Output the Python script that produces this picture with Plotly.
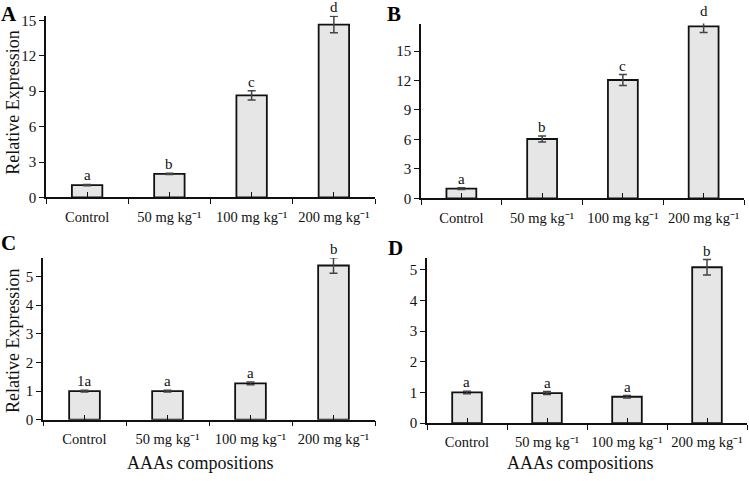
import plotly.graph_objects as go

categories = ["Control", "50 mg kg⁻¹", "100 mg kg⁻¹", "200 mg kg⁻¹"]

a_mean = [1.05, 2.0, 8.65, 14.65]
a_err = [0.05, 0.06, 0.4, 0.7]
a_letters = ["a", "b", "c", "d"]

b_mean = [1.0, 6.05, 12.05, 17.5]
b_err = [0.08, 0.3, 0.55, 0.62]
b_letters = ["a", "b", "c", "d"]

c_mean = [1.0, 1.0, 1.27, 5.38]
c_err = [0.03, 0.03, 0.05, 0.27]
c_letters = ["1a", "a", "a", "b"]

d_mean = [1.0, 0.98, 0.86, 5.08]
d_err = [0.04, 0.05, 0.04, 0.25]
d_letters = ["a", "a", "a", "b"]

panel_labels = ["A", "B", "C", "D"]
y_title = "Relative Expression"
x_title = "AAAs compositions"

FONT = "Liberation Serif, Times New Roman, serif"
W, H = 749, 481

def px_x(p):
    return p / W

def px_y(p):
    return 1 - p / H

# panel geometry (pixels): left, right, zero-line y, top y, y max, dtick
panels = [
    dict(mean=a_mean, err=a_err, letters=a_letters, l=46, r=375, y0=199, y1=13, ymax=15.4, dtick=3),
    dict(mean=b_mean, err=b_err, letters=b_letters, l=421, r=744, y0=200, y1=21, ymax=17.8, dtick=3),
    dict(mean=c_mean, err=c_err, letters=c_letters, l=43, r=375, y0=426.5, y1=261, ymax=5.64, dtick=1),
    dict(mean=d_mean, err=d_err, letters=d_letters, l=427, r=747, y0=430, y1=261, ymax=5.38, dtick=1),
]

fig = go.Figure()
annotations = []
layout = {}

for i, p in enumerate(panels):
    n = i + 1
    xa = "x" if n == 1 else f"x{n}"
    ya = "y" if n == 1 else f"y{n}"
    xo = f"x{n + 4}"
    # invisible helper trace on the base axis
    fig.add_trace(go.Scatter(
        x=categories, y=p["mean"], xaxis=xa, yaxis=ya, mode="markers",
        marker=dict(opacity=0), showlegend=False, hoverinfo="skip",
    ))
    # bars drawn on the overlay axis so its inner centre ticks sit on top
    fig.add_trace(go.Bar(
        x=categories, y=p["mean"], xaxis=xo, yaxis=ya, width=0.37,
        marker=dict(color="#e6e6e6", line=dict(color="#111111", width=1.8)),
        error_y=dict(type="data", array=p["err"], visible=True, color="#444444",
                     thickness=1.5, width=4),
        cliponaxis=False, showlegend=False, hoverinfo="skip",
    ))
    dom_x = [px_x(p["l"]), px_x(p["r"])]
    dom_y = [px_y(p["y0"]), px_y(p["y1"])]
    xkey = "xaxis" if n == 1 else f"xaxis{n}"
    ykey = "yaxis" if n == 1 else f"yaxis{n}"
    layout[xkey] = dict(
        domain=dom_x, anchor=ya, type="category", categoryorder="array",
        categoryarray=categories, range=[-0.5, 3.5], tickangle=0,
        showline=True, linecolor="#111111", linewidth=1.5,
        ticks="outside", tickson="boundaries", ticklen=5, tickwidth=1.3,
        tickcolor="#111111", showgrid=False, zeroline=False,
        ticklabelstandoff=5,
        tickfont=dict(family=FONT, size=14.5, color="#111111"),
    )
    layout[f"xaxis{n + 4}"] = dict(
        domain=dom_x, anchor=ya, overlaying=xa, type="category",
        categoryorder="array", categoryarray=categories, range=[-0.5, 3.5],
        showline=False, ticks="inside", ticklen=5, tickwidth=1.3,
        tickcolor="#111111", showticklabels=False, showgrid=False, zeroline=False,
        layer="above traces",
    )
    layout[ykey] = dict(
        domain=dom_y, anchor=xa, range=[0, p["ymax"]], dtick=p["dtick"], tick0=0,
        showline=True, linecolor="#111111", linewidth=1.5,
        ticks="outside", ticklen=5, tickwidth=1.3, tickcolor="#111111",
        showgrid=False, zeroline=False,
        tickfont=dict(family=FONT, size=15, color="#111111"),
    )
    for cat, m, e, t in zip(categories, p["mean"], p["err"], p["letters"]):
        annotations.append(dict(
            x=cat, y=(m + e) / p["ymax"], xref=xa, yref=f"{ya} domain", text=t,
            showarrow=False, yanchor="bottom", yshift=-1,
            font=dict(family=FONT, size=15, color="#111111"),
        ))

# panel letters
for lab, (x, y) in zip(panel_labels, [(9, 11), (394, 11), (8, 246), (395, 251)]):
    annotations.append(dict(
        x=px_x(x), y=px_y(y), xref="paper", yref="paper", text=f"<b>{lab}</b>",
        showarrow=False, xanchor="center", yanchor="middle",
        font=dict(family=FONT, size=21, color="#000000"),
    ))

# y titles
for yc in [102, 346]:
    annotations.append(dict(
        x=px_x(13), y=px_y(yc), xref="paper", yref="paper", text=y_title,
        showarrow=False, textangle=-90, xanchor="center", yanchor="middle",
        font=dict(family=FONT, size=18, color="#111111"),
    ))

# x titles
for xc in [200, 580]:
    annotations.append(dict(
        x=px_x(xc), y=px_y(471), xref="paper", yref="paper", text=x_title,
        showarrow=False, xanchor="center", yanchor="middle",
        font=dict(family=FONT, size=18, color="#111111"),
    ))

fig.update_layout(
    width=W, height=H, margin=dict(l=0, r=0, t=0, b=0),
    paper_bgcolor="white", plot_bgcolor="white",
    annotations=annotations, bargap=0.5, **layout,
)

fig.write_html(
    "out.html",
    config={"displayModeBar": False},
    post_script="document.body.style.margin='0';document.body.style.overflow='hidden';",
)
